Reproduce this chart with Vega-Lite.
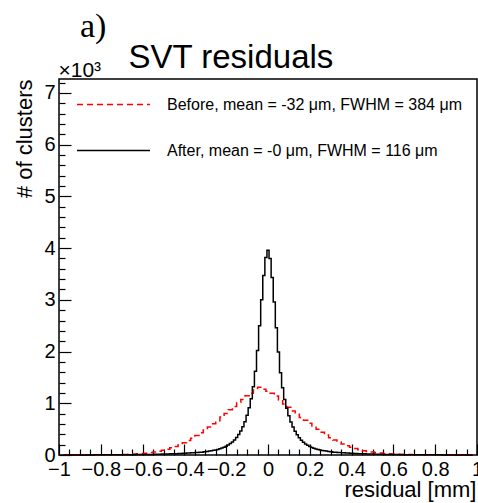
{
  "$schema": "https://vega.github.io/schema/vega-lite/v6.json",
  "width": 418,
  "height": 376,
  "autosize": {"type": "none"},
  "padding": {"left": 59, "top": 79, "right": 1, "bottom": 48},
  "background": "white",
  "title": {"text": "a)", "font": "Liberation Serif", "fontSize": 34, "fontWeight": "normal", "color": "#000", "anchor": "start", "frame": "group", "dx": 21, "dy": 30, "baseline": "alphabetic", "offset": 0},
  "config": {
    "view": {"stroke": "#000", "strokeWidth": 1.5},
    "legend": {"orient": "none", "legendX": 17, "legendY": -12, "title": null, "symbolType": "stroke", "symbolSize": 5329, "symbolStrokeWidth": 1.5, "labelFontSize": 16, "labelFont": "Liberation Sans", "labelColor": "#000", "labelOffset": 16, "labelLimit": 400, "rowPadding": -23, "padding": 0}
  },
  "data": {"values": [
    {"s": "before", "x": -0.98, "n": 0}, {"s": "before", "x": -0.96, "n": 0}, {"s": "before", "x": -0.94, "n": 1}, {"s": "before", "x": -0.92, "n": 1},
    {"s": "before", "x": -0.90, "n": 1}, {"s": "before", "x": -0.88, "n": 1}, {"s": "before", "x": -0.86, "n": 2}, {"s": "before", "x": -0.84, "n": 2},
    {"s": "before", "x": -0.82, "n": 2}, {"s": "before", "x": -0.80, "n": 3}, {"s": "before", "x": -0.78, "n": 3}, {"s": "before", "x": -0.76, "n": 4},
    {"s": "before", "x": -0.74, "n": 5}, {"s": "before", "x": -0.72, "n": 6}, {"s": "before", "x": -0.70, "n": 8}, {"s": "before", "x": -0.68, "n": 10},
    {"s": "before", "x": -0.66, "n": 13}, {"s": "before", "x": -0.64, "n": 17}, {"s": "before", "x": -0.62, "n": 22}, {"s": "before", "x": -0.60, "n": 28},
    {"s": "before", "x": -0.58, "n": 36}, {"s": "before", "x": -0.56, "n": 46}, {"s": "before", "x": -0.54, "n": 58}, {"s": "before", "x": -0.52, "n": 72},
    {"s": "before", "x": -0.50, "n": 90}, {"s": "before", "x": -0.48, "n": 112}, {"s": "before", "x": -0.46, "n": 138}, {"s": "before", "x": -0.44, "n": 165},
    {"s": "before", "x": -0.42, "n": 200}, {"s": "before", "x": -0.40, "n": 238}, {"s": "before", "x": -0.38, "n": 280}, {"s": "before", "x": -0.36, "n": 325},
    {"s": "before", "x": -0.34, "n": 375}, {"s": "before", "x": -0.32, "n": 430}, {"s": "before", "x": -0.30, "n": 485}, {"s": "before", "x": -0.28, "n": 540},
    {"s": "before", "x": -0.26, "n": 605}, {"s": "before", "x": -0.24, "n": 660}, {"s": "before", "x": -0.22, "n": 735}, {"s": "before", "x": -0.20, "n": 800},
    {"s": "before", "x": -0.18, "n": 875}, {"s": "before", "x": -0.16, "n": 940}, {"s": "before", "x": -0.14, "n": 1015}, {"s": "before", "x": -0.12, "n": 1075},
    {"s": "before", "x": -0.10, "n": 1145}, {"s": "before", "x": -0.08, "n": 1195}, {"s": "before", "x": -0.06, "n": 1255}, {"s": "before", "x": -0.04, "n": 1310},
    {"s": "before", "x": -0.02, "n": 1270}, {"s": "before", "x": 0.00, "n": 1235}, {"s": "before", "x": 0.02, "n": 1195}, {"s": "before", "x": 0.04, "n": 1140},
    {"s": "before", "x": 0.06, "n": 1065}, {"s": "before", "x": 0.08, "n": 985}, {"s": "before", "x": 0.10, "n": 925}, {"s": "before", "x": 0.12, "n": 850},
    {"s": "before", "x": 0.14, "n": 790}, {"s": "before", "x": 0.16, "n": 725}, {"s": "before", "x": 0.18, "n": 670}, {"s": "before", "x": 0.20, "n": 615},
    {"s": "before", "x": 0.22, "n": 560}, {"s": "before", "x": 0.24, "n": 500}, {"s": "before", "x": 0.26, "n": 440}, {"s": "before", "x": 0.28, "n": 385},
    {"s": "before", "x": 0.30, "n": 335}, {"s": "before", "x": 0.32, "n": 290}, {"s": "before", "x": 0.34, "n": 250}, {"s": "before", "x": 0.36, "n": 215},
    {"s": "before", "x": 0.38, "n": 180}, {"s": "before", "x": 0.40, "n": 150}, {"s": "before", "x": 0.42, "n": 125}, {"s": "before", "x": 0.44, "n": 102},
    {"s": "before", "x": 0.46, "n": 84}, {"s": "before", "x": 0.48, "n": 68}, {"s": "before", "x": 0.50, "n": 56}, {"s": "before", "x": 0.52, "n": 45},
    {"s": "before", "x": 0.54, "n": 37}, {"s": "before", "x": 0.56, "n": 30}, {"s": "before", "x": 0.58, "n": 24}, {"s": "before", "x": 0.60, "n": 20},
    {"s": "before", "x": 0.62, "n": 16}, {"s": "before", "x": 0.64, "n": 13}, {"s": "before", "x": 0.66, "n": 11}, {"s": "before", "x": 0.68, "n": 9},
    {"s": "before", "x": 0.70, "n": 7}, {"s": "before", "x": 0.72, "n": 6}, {"s": "before", "x": 0.74, "n": 5}, {"s": "before", "x": 0.76, "n": 4},
    {"s": "before", "x": 0.78, "n": 3}, {"s": "before", "x": 0.80, "n": 3}, {"s": "before", "x": 0.82, "n": 2}, {"s": "before", "x": 0.84, "n": 2},
    {"s": "before", "x": 0.86, "n": 2}, {"s": "before", "x": 0.88, "n": 1}, {"s": "before", "x": 0.90, "n": 1}, {"s": "before", "x": 0.92, "n": 1},
    {"s": "before", "x": 0.94, "n": 1}, {"s": "before", "x": 0.96, "n": 0}, {"s": "before", "x": 0.98, "n": 0},

    {"s": "after", "x": -0.98, "n": 1}, {"s": "after", "x": -0.96, "n": 1}, {"s": "after", "x": -0.94, "n": 1}, {"s": "after", "x": -0.92, "n": 1},
    {"s": "after", "x": -0.90, "n": 2}, {"s": "after", "x": -0.88, "n": 2}, {"s": "after", "x": -0.86, "n": 2}, {"s": "after", "x": -0.84, "n": 2},
    {"s": "after", "x": -0.82, "n": 3}, {"s": "after", "x": -0.80, "n": 3}, {"s": "after", "x": -0.78, "n": 3}, {"s": "after", "x": -0.76, "n": 4},
    {"s": "after", "x": -0.74, "n": 4}, {"s": "after", "x": -0.72, "n": 5}, {"s": "after", "x": -0.70, "n": 5}, {"s": "after", "x": -0.68, "n": 6},
    {"s": "after", "x": -0.66, "n": 6}, {"s": "after", "x": -0.64, "n": 7}, {"s": "after", "x": -0.62, "n": 8}, {"s": "after", "x": -0.60, "n": 9},
    {"s": "after", "x": -0.58, "n": 10}, {"s": "after", "x": -0.56, "n": 12}, {"s": "after", "x": -0.54, "n": 13}, {"s": "after", "x": -0.52, "n": 15},
    {"s": "after", "x": -0.50, "n": 17}, {"s": "after", "x": -0.48, "n": 19}, {"s": "after", "x": -0.46, "n": 22}, {"s": "after", "x": -0.44, "n": 25},
    {"s": "after", "x": -0.42, "n": 28}, {"s": "after", "x": -0.40, "n": 32}, {"s": "after", "x": -0.38, "n": 37}, {"s": "after", "x": -0.36, "n": 42},
    {"s": "after", "x": -0.34, "n": 48}, {"s": "after", "x": -0.32, "n": 55},
    {"s": "after", "x": -0.30, "n": 64}, {"s": "after", "x": -0.29, "n": 70}, {"s": "after", "x": -0.28, "n": 76}, {"s": "after", "x": -0.27, "n": 83},
    {"s": "after", "x": -0.26, "n": 90}, {"s": "after", "x": -0.25, "n": 98}, {"s": "after", "x": -0.24, "n": 108}, {"s": "after", "x": -0.23, "n": 120},
    {"s": "after", "x": -0.22, "n": 135}, {"s": "after", "x": -0.21, "n": 150}, {"s": "after", "x": -0.20, "n": 170}, {"s": "after", "x": -0.19, "n": 193},
    {"s": "after", "x": -0.18, "n": 220}, {"s": "after", "x": -0.17, "n": 252}, {"s": "after", "x": -0.16, "n": 290}, {"s": "after", "x": -0.15, "n": 338},
    {"s": "after", "x": -0.14, "n": 395}, {"s": "after", "x": -0.13, "n": 462}, {"s": "after", "x": -0.12, "n": 545}, {"s": "after", "x": -0.11, "n": 645},
    {"s": "after", "x": -0.10, "n": 770}, {"s": "after", "x": -0.09, "n": 915}, {"s": "after", "x": -0.08, "n": 1090}, {"s": "after", "x": -0.07, "n": 1320},
    {"s": "after", "x": -0.06, "n": 1620}, {"s": "after", "x": -0.05, "n": 2020}, {"s": "after", "x": -0.04, "n": 2500}, {"s": "after", "x": -0.03, "n": 3000},
    {"s": "after", "x": -0.02, "n": 3470}, {"s": "after", "x": -0.01, "n": 3820}, {"s": "after", "x": 0.00, "n": 3960}, {"s": "after", "x": 0.01, "n": 3800},
    {"s": "after", "x": 0.02, "n": 3430}, {"s": "after", "x": 0.03, "n": 2960}, {"s": "after", "x": 0.04, "n": 2460}, {"s": "after", "x": 0.05, "n": 1990},
    {"s": "after", "x": 0.06, "n": 1590}, {"s": "after", "x": 0.07, "n": 1300}, {"s": "after", "x": 0.08, "n": 1075}, {"s": "after", "x": 0.09, "n": 905},
    {"s": "after", "x": 0.10, "n": 760}, {"s": "after", "x": 0.11, "n": 640}, {"s": "after", "x": 0.12, "n": 540}, {"s": "after", "x": 0.13, "n": 460},
    {"s": "after", "x": 0.14, "n": 392}, {"s": "after", "x": 0.15, "n": 335}, {"s": "after", "x": 0.16, "n": 286}, {"s": "after", "x": 0.17, "n": 248},
    {"s": "after", "x": 0.18, "n": 215}, {"s": "after", "x": 0.19, "n": 188}, {"s": "after", "x": 0.20, "n": 165}, {"s": "after", "x": 0.21, "n": 146},
    {"s": "after", "x": 0.22, "n": 130}, {"s": "after", "x": 0.23, "n": 117}, {"s": "after", "x": 0.24, "n": 105}, {"s": "after", "x": 0.25, "n": 96},
    {"s": "after", "x": 0.26, "n": 88}, {"s": "after", "x": 0.27, "n": 81}, {"s": "after", "x": 0.28, "n": 75}, {"s": "after", "x": 0.29, "n": 69},
    {"s": "after", "x": 0.30, "n": 64},
    {"s": "after", "x": 0.32, "n": 55}, {"s": "after", "x": 0.34, "n": 48}, {"s": "after", "x": 0.36, "n": 42},
    {"s": "after", "x": 0.38, "n": 37}, {"s": "after", "x": 0.40, "n": 32}, {"s": "after", "x": 0.42, "n": 28}, {"s": "after", "x": 0.44, "n": 25},
    {"s": "after", "x": 0.46, "n": 22}, {"s": "after", "x": 0.48, "n": 19}, {"s": "after", "x": 0.50, "n": 17}, {"s": "after", "x": 0.52, "n": 15},
    {"s": "after", "x": 0.54, "n": 13}, {"s": "after", "x": 0.56, "n": 12}, {"s": "after", "x": 0.58, "n": 10}, {"s": "after", "x": 0.60, "n": 9},
    {"s": "after", "x": 0.62, "n": 8}, {"s": "after", "x": 0.64, "n": 7}, {"s": "after", "x": 0.66, "n": 6}, {"s": "after", "x": 0.68, "n": 6},
    {"s": "after", "x": 0.70, "n": 5}, {"s": "after", "x": 0.72, "n": 5}, {"s": "after", "x": 0.74, "n": 4}, {"s": "after", "x": 0.76, "n": 4},
    {"s": "after", "x": 0.78, "n": 3}, {"s": "after", "x": 0.80, "n": 3}, {"s": "after", "x": 0.82, "n": 3}, {"s": "after", "x": 0.84, "n": 2},
    {"s": "after", "x": 0.86, "n": 2}, {"s": "after", "x": 0.88, "n": 2}, {"s": "after", "x": 0.90, "n": 2}, {"s": "after", "x": 0.92, "n": 1},
    {"s": "after", "x": 0.94, "n": 1}, {"s": "after", "x": 0.96, "n": 1}, {"s": "after", "x": 0.98, "n": 1}
  ]},
  "resolve": {"axis": {"x": "independent", "y": "independent"}},
  "layer": [
    {
      "transform": [{"filter": "datum.s === 'before'"}],
      "mark": {"type": "line", "interpolate": "step", "strokeWidth": 1.5},
      "encoding": {
        "x": {"field": "x", "type": "quantitative", "scale": {"domain": [-1, 1], "nice": false, "zero": false},
          "axis": {"orient": "bottom", "title": "residual [mm]",
            "values": [-1, -0.95, -0.9, -0.85, -0.8, -0.75, -0.7, -0.65, -0.6, -0.55, -0.5, -0.45, -0.4, -0.35, -0.3, -0.25, -0.2, -0.15, -0.1, -0.05, 0, 0.05, 0.1, 0.15, 0.2, 0.25, 0.3, 0.35, 0.4, 0.45, 0.5, 0.55, 0.6, 0.65, 0.7, 0.75, 0.8, 0.85, 0.9, 0.95, 1],
            "tickSize": {"condition": {"test": "abs(datum.value*5 - round(datum.value*5)) < 0.001", "value": -11}, "value": -6},
            "labelExpr": "abs(datum.value*5 - round(datum.value*5)) < 0.001 ? format(datum.value, '~g') : ''",
            "tickColor": "#000", "tickWidth": 1.2, "labelFontSize": 20, "labelFont": "Liberation Sans", "labelColor": "#000", "labelPadding": 15,
            "labelFlush": false, "labelOverlap": false, "labelBound": false, "domain": false, "grid": false,
            "titleFontSize": 22, "titleFont": "Liberation Sans", "titleFontWeight": "normal", "titleColor": "#000",
            "titleAnchor": "end", "titleAlign": "right", "titleX": 417, "titleY": 41, "titleBaseline": "alphabetic"}},
        "y": {"field": "n", "type": "quantitative", "scale": {"domain": [0, 7270], "nice": false},
          "axis": {"orient": "left", "title": "# of clusters",
            "values": [0, 200, 400, 600, 800, 1000, 1200, 1400, 1600, 1800, 2000, 2200, 2400, 2600, 2800, 3000, 3200, 3400, 3600, 3800, 4000, 4200, 4400, 4600, 4800, 5000, 5200, 5400, 5600, 5800, 6000, 6200, 6400, 6600, 6800, 7000, 7200],
            "tickSize": {"condition": {"test": "datum.value % 1000 === 0", "value": -12}, "value": -6},
            "labelExpr": "datum.value % 1000 === 0 ? format(datum.value/1000, 'd') : ''",
            "tickColor": "#000", "tickWidth": 1.2, "labelFontSize": 20, "labelFont": "Liberation Sans", "labelColor": "#000", "labelPadding": 16,
            "labelFlush": false, "labelOverlap": false, "labelBound": false, "domain": false, "grid": false,
            "titleFontSize": 22, "titleFont": "Liberation Sans", "titleFontWeight": "normal", "titleColor": "#000",
            "titleAngle": 270, "titleAnchor": "end", "titleAlign": "right", "titleX": -35, "titleY": 0, "titleBaseline": "middle"}},
        "color": {"field": "s", "type": "nominal", "scale": {"domain": ["before", "after"], "range": ["#ff0000", "#000000"]},
          "legend": {"labelExpr": "datum.label === 'before' ? 'Before, mean = -32 μm, FWHM = 384 μm' : 'After, mean = -0 μm, FWHM = 116 μm'"}},
        "strokeDash": {"field": "s", "type": "nominal", "scale": {"domain": ["before", "after"], "range": [[6, 4], [1, 0]]},
          "legend": {"labelExpr": "datum.label === 'before' ? 'Before, mean = -32 μm, FWHM = 384 μm' : 'After, mean = -0 μm, FWHM = 116 μm'"}}
      }
    },
    {
      "transform": [{"filter": "datum.s === 'after'"}],
      "mark": {"type": "line", "interpolate": "step", "strokeWidth": 1.5},
      "encoding": {
        "x": {"field": "x", "type": "quantitative",
          "axis": {"orient": "top", "title": "SVT residuals", "labels": false, "ticks": false, "domain": false, "grid": false,
            "titleFontSize": 33, "titleFont": "Liberation Sans", "titleFontWeight": "normal", "titleColor": "#000",
            "titleAnchor": "start", "titleAlign": "left", "titleX": 69, "titleY": -12, "titleBaseline": "alphabetic"}},
        "y": {"field": "n", "type": "quantitative",
          "axis": {"orient": "left", "title": "×10³", "labels": false, "ticks": false, "domain": false, "grid": false,
            "titleFontSize": 21, "titleFont": "Liberation Sans", "titleFontWeight": "normal", "titleColor": "#000",
            "titleAngle": 0, "titleAnchor": "start", "titleAlign": "left", "titleX": -1, "titleY": -3, "titleBaseline": "alphabetic"}},
        "color": {"field": "s", "type": "nominal",
          "legend": {"labelExpr": "datum.label === 'before' ? 'Before, mean = -32 μm, FWHM = 384 μm' : 'After, mean = -0 μm, FWHM = 116 μm'"}},
        "strokeDash": {"field": "s", "type": "nominal",
          "legend": {"labelExpr": "datum.label === 'before' ? 'Before, mean = -32 μm, FWHM = 384 μm' : 'After, mean = -0 μm, FWHM = 116 μm'"}}
      }
    }
  ]
}
